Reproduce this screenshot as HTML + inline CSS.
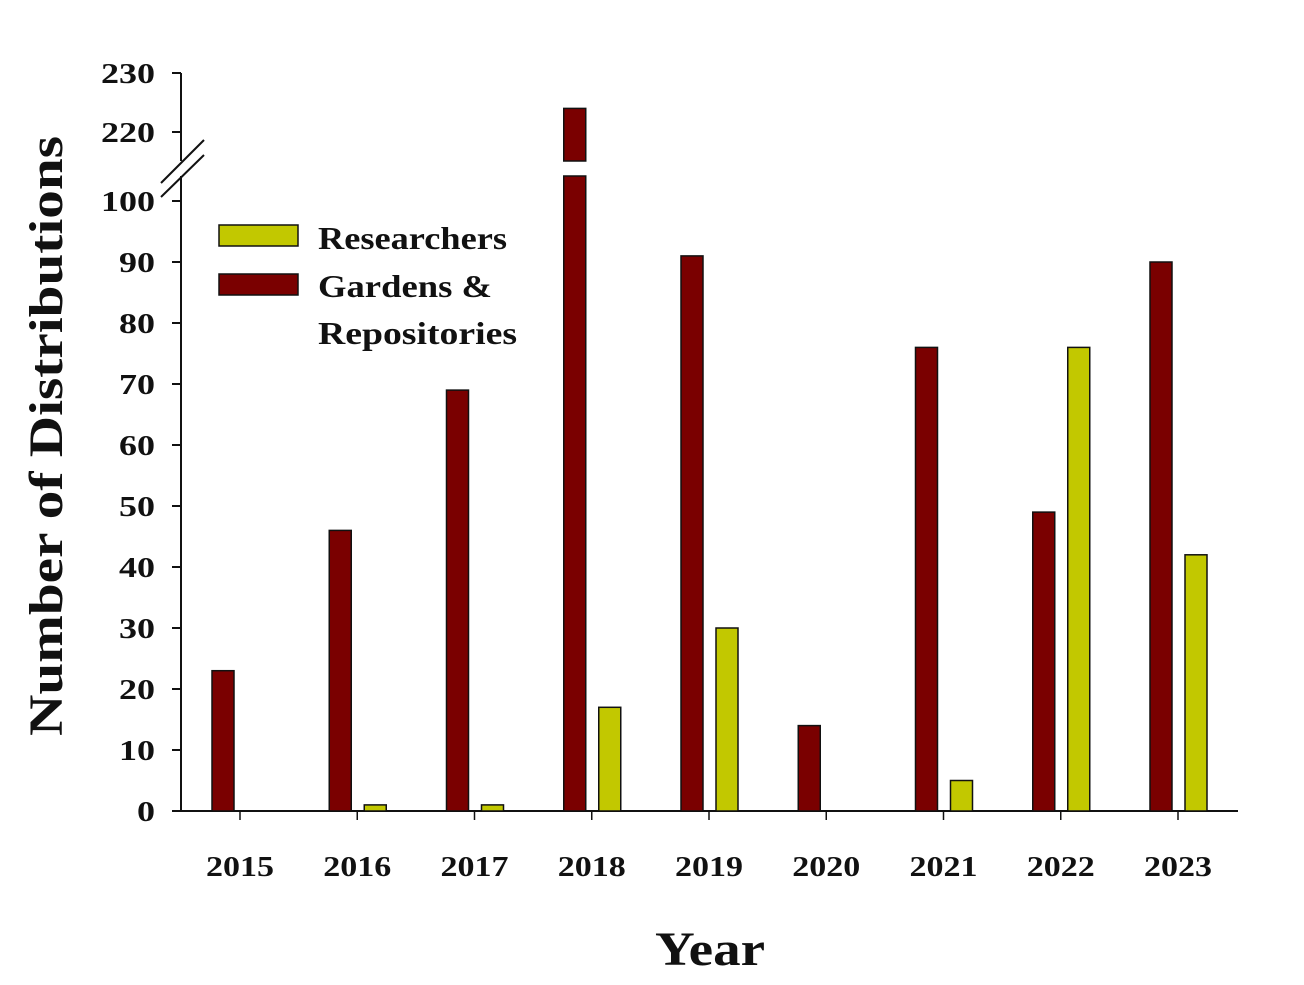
<!DOCTYPE html>
<html><head><meta charset="utf-8"><style>
body{margin:0;background:#fff;}
svg text{font-family:"Liberation Serif",serif;font-weight:bold;fill:#111;}
</style></head><body>
<svg width="1304" height="980">
<g id="chart"></g>
</svg>
<script>
const years=["2015","2016","2017","2018","2019","2020","2021","2022","2023"];
const gardens=[23,46,69,224,91,14,76,49,90];
const researchers=[0,1,1,17,30,0,5,76,42];
const lowTicks=[0,10,20,30,40,50,60,70,80,90,100];
const highTicks=[220,230];
const NS="http://www.w3.org/2000/svg";
const g=document.getElementById('chart');
function mk(t,a,txt){const e=document.createElementNS(NS,t);for(const k in a)e.setAttribute(k,a[k]);if(txt!==undefined)e.textContent=txt;g.appendChild(e);return e;}
function yLow(v){return 811-v*6.1;}
function yHigh(v){return 132-(v-220)*5.9;}
function yVal(v){return v<=105?yLow(v):yHigh(v);}
function xC(i){return 240+i*117.25;}
function tickW(v){return String(v).length*18;}
let e;
e=mk('line',{x1:181,y1:176,x2:181,y2:811,stroke:'#111','stroke-width':2});

e=mk('line',{x1:181,y1:73,x2:181,y2:161,stroke:'#111','stroke-width':2});

e=mk('line',{x1:161,y1:183,x2:204,y2:140,stroke:'#111','stroke-width':2});

e=mk('line',{x1:161,y1:197,x2:204,y2:155,stroke:'#111','stroke-width':2});

e=mk('line',{x1:172,y1:811,x2:1238,y2:811,stroke:'#111','stroke-width':2});

lowTicks.forEach(v=>{const y=yLow(v);
 e=mk('line',{x1:172,y1:y,x2:181,y2:y,stroke:'#111','stroke-width':2});
 
 e=mk('text',{x:155,y:y+10,'text-anchor':'end','font-size':29,textLength:tickW(v),lengthAdjust:'spacingAndGlyphs'},v);
 });
highTicks.forEach(v=>{const y=yHigh(v);
 e=mk('line',{x1:172,y1:y,x2:181,y2:y,stroke:'#111','stroke-width':2});
 
 e=mk('text',{x:155,y:y+10,'text-anchor':'end','font-size':29,textLength:tickW(v),lengthAdjust:'spacingAndGlyphs'},v);
 });
years.forEach((yr,i)=>{const x=xC(i);
 e=mk('line',{x1:x,y1:811,x2:x,y2:820,stroke:'#111','stroke-width':1.5});
 
 e=mk('text',{x:x,y:876,'text-anchor':'middle','font-size':29,textLength:68,lengthAdjust:'spacingAndGlyphs'},yr);
 
 const gv=gardens[i],gx=x-28;
 if(gv>105){
  e=mk('rect',{x:gx,y:yHigh(gv),width:22,height:161-yHigh(gv),fill:'#7a0000',stroke:'#111','stroke-width':1.5});
  
  e=mk('rect',{x:gx,y:176,width:22,height:811-176,fill:'#7a0000',stroke:'#111','stroke-width':1.5});
  
 }else if(gv>0){
  e=mk('rect',{x:gx,y:yLow(gv),width:22,height:811-yLow(gv),fill:'#7a0000',stroke:'#111','stroke-width':1.5});
  
 }
 const rv=researchers[i];
 if(rv>0){
  e=mk('rect',{x:x+7,y:yVal(rv),width:22,height:811-yVal(rv),fill:'#c2c800',stroke:'#111','stroke-width':1.5});
  
 }
});
e=mk('rect',{x:219,y:225,width:79,height:21,fill:'#c2c800',stroke:'#111','stroke-width':1.5});

e=mk('text',{x:318,y:249,'font-size':32,textLength:189,lengthAdjust:'spacingAndGlyphs'},'Researchers');

e=mk('rect',{x:219,y:274,width:79,height:21,fill:'#7a0000',stroke:'#111','stroke-width':1.5});

e=mk('text',{x:318,y:297,'font-size':32,textLength:174,lengthAdjust:'spacingAndGlyphs'},'Gardens &');

e=mk('text',{x:318,y:344,'font-size':32,textLength:199,lengthAdjust:'spacingAndGlyphs'},'Repositories');

e=mk('text',{x:710,y:965,'text-anchor':'middle','font-size':48,textLength:110,lengthAdjust:'spacingAndGlyphs'},'Year');

e=mk('text',{x:0,y:0,'text-anchor':'middle','font-size':48,textLength:600,lengthAdjust:'spacingAndGlyphs',transform:'translate(62,436) rotate(-90)'},'Number of Distributions');

</script>
</body></html>
